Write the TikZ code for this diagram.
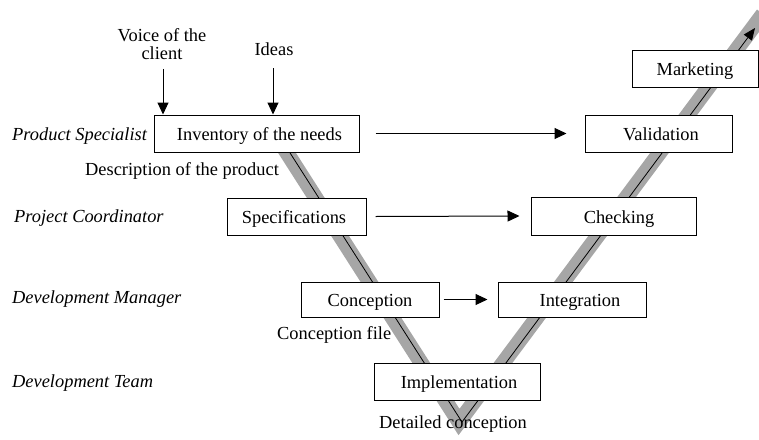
\documentclass[tikz,border=0pt]{standalone}
\usepackage{fontspec}
\setmainfont{Liberation Serif}
\usetikzlibrary{arrows.meta}
\begin{document}
\begin{tikzpicture}[x=1pt,y=-1pt,
  font=\fontsize{18.4pt}{18pt}\selectfont,
  box/.style={draw, fill=white, line width=1pt, inner sep=0pt, text height=14pt, text depth=0pt},
  txt/.style={inner sep=0pt},
  role/.style={inner sep=0pt, anchor=base west, font=\fontsize{18.4pt}{18pt}\selectfont\itshape},
  arr/.style={-{Triangle[length=12pt,width=11pt]}, line width=1pt},
  vband/.style={black!35, line width=15pt, line join=miter},
  vline/.style={line width=0.8pt, -{Triangle[length=12pt,width=10pt]}}]
\useasboundingbox (0,0) rectangle (759,439);

% V shape
\coordinate (vtop) at (269,120);
\coordinate (vbot) at (462,422);
\coordinate (vtip) at (755,28);
\coordinate (gtop) at (266,120);
\coordinate (gbot) at (459,422);
\coordinate (gend) at (763,14);
\draw[vband] (gtop) -- (gbot) -- (gend);
\draw[vline] (vtop) -- (vbot) -- (vtip);

% boxes
\node[box, minimum width=205pt, minimum height=37pt] (inv) at (256.5,133.5) {\hspace*{6pt}Inventory of the needs};
\node[box, minimum width=147pt, minimum height=37pt] (val) at (658.5,133.5) {\hspace*{5pt}Validation};
\node[box, minimum width=139pt, minimum height=37pt] (spec) at (296.5,216.5) {Specifications\hspace*{5pt}};
\node[box, minimum width=165pt, minimum height=38pt] (chk) at (613.5,216) {\hspace*{11pt}Checking};
\node[box, minimum width=138pt, minimum height=35pt] (conc) at (370,299.5) {Conception};
\node[box, minimum width=148pt, minimum height=35pt] (integ) at (572,299.5) {\hspace*{16pt}Integration};
\node[box, minimum width=166pt, minimum height=37pt] (impl) at (457,381.5) {\hspace*{4pt}Implementation};
\node[box, minimum width=126pt, minimum height=37pt] (mkt) at (695,68.5) {Marketing};

% top inputs
\node[txt, align=center] (voice) at (162,44) {Voice of the\\client};
\node[txt, anchor=base] (ideas) at (274,55) {Ideas};
\draw[arr] ([shift={(1pt,-9pt)}]voice.south) -- ([shift={(1pt,0pt)}]voice.south |- inv.north);
\draw[arr] ([shift={(-1pt,-13pt)}]ideas.south) -- ([shift={(-1pt,0pt)}]ideas.south |- inv.north);

% horizontal arrows
\draw[arr] ([xshift=16pt]inv.east) -- ([xshift=-18pt]val.west);
\draw[arr] ([xshift=9pt]spec.east) -- ([xshift=-11pt]chk.west);
\draw[arr] ([xshift=4pt]conc.east) -- ([xshift=-10pt]integ.west);

% roles
\node[role] (r1) at (12,140) {Product Specialist};
\node[role] (r2) at (14,222) {Project Coordinator};
\node[role] (r3) at (12,303.5) {Development Manager};
\node[role] (r4) at (12,387) {Development Team};

% documents
\node[txt, anchor=base west] (desc) at (85,175) {Description of the product};
\node[txt, anchor=base west] (cfile) at (277,339) {Conception file};
\node[txt, anchor=base west] (dconc) at (379,428) {Detailed conception};
\end{tikzpicture}
\end{document}
